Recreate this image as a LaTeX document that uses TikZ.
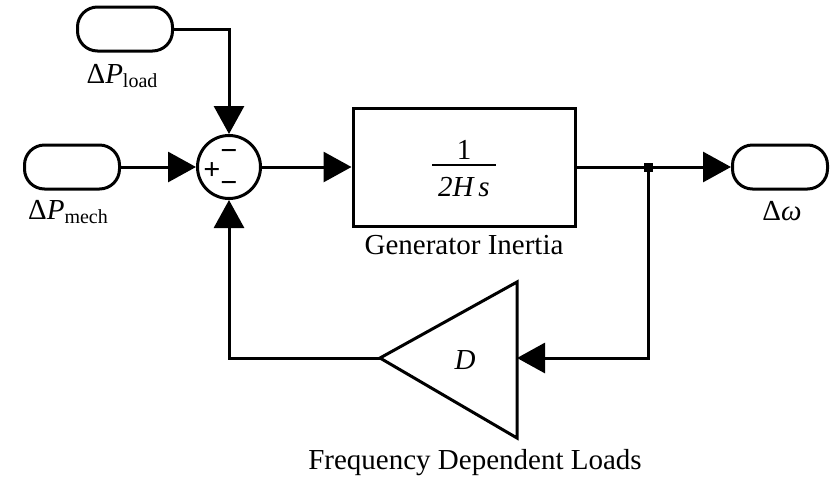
\documentclass[tikz,border=0pt]{standalone}
\usepackage{fontspec}
\setmainfont{Liberation Serif}
\usetikzlibrary{arrows.meta}
\begin{document}
\begin{tikzpicture}[x=1pt,y=-1pt, line width=3pt,
  term/.style={draw, rounded corners=20pt, minimum width=95pt, minimum height=44pt, inner sep=0pt},
  lbl/.style={font=\fontsize{29}{34}\selectfont, inner sep=0pt},
  sgn/.style={font=\fontsize{30}{30}\selectfont\bfseries, inner sep=0pt},
  arr/.style={-{Triangle[length=28pt,width=30pt]}}]
\useasboundingbox (0,0) rectangle (838,483);
% terminals
\node[term] (pload) at (125,29) {};
\node[lbl] (lload) at (122,76) {Δ\textit{P}\raisebox{-4pt}{\fontsize{20}{21}\selectfont load}};
\node[term] (pmech) at (72,167) {};
\node[lbl] (lmech) at (68,212) {Δ\textit{P}\raisebox{-4pt}{\fontsize{20}{21}\selectfont mech}};
\node[term] (dw) at (780,167) {};
\node[lbl] (ldw) at (782,211) {Δ\textit{ω}};
% sum
\node[draw, circle, minimum size=63pt, inner sep=0pt] (sum) at (229,167) {};
\node[sgn] (splus) at (212,171) {+};
\node[sgn] (smin1) at (229,155) {−};
\node[sgn] (smin2) at (229,187) {−};
% generator block
\node[draw, minimum width=222pt, minimum height=118pt, inner sep=0pt] (gen) at (464,167) {};
\node[lbl] (num) at (464,150) {1};
\draw[line width=2.5pt] (432,165) -- (496,165);
\node[lbl] (den) at (464,187) {\textit{2H\,s}};
\node[lbl] (lgen) at (464,245) {Generator Inertia};
% junction
\coordinate (j) at (648,167);
\fill (j) +(-4.5,-4.5) rectangle +(4.5,4.5);
% gain
\coordinate (gin) at (517,358);
\coordinate (gtip) at (380,358);
\draw[line join=miter] (517,282) -- (517,438) -- (gtip) -- cycle;
\node[lbl] (dlab) at (465,360) {\textit{D}};
\node[lbl] (lgain) at (475,463) {Frequency Dependent Loads};
% connectors
\draw[arr] (pload.east) -| (sum.north);
\draw[arr] (pmech.east) -- (sum.west);
\draw[arr] (sum.east) -- (gen.west);
\draw (gen.east) -- (j);
\draw[arr] (j) -- (dw.west);
\draw[arr] (j) |- (gin);
\draw[arr] (gtip) -| (sum.south);
\end{tikzpicture}
\end{document}
